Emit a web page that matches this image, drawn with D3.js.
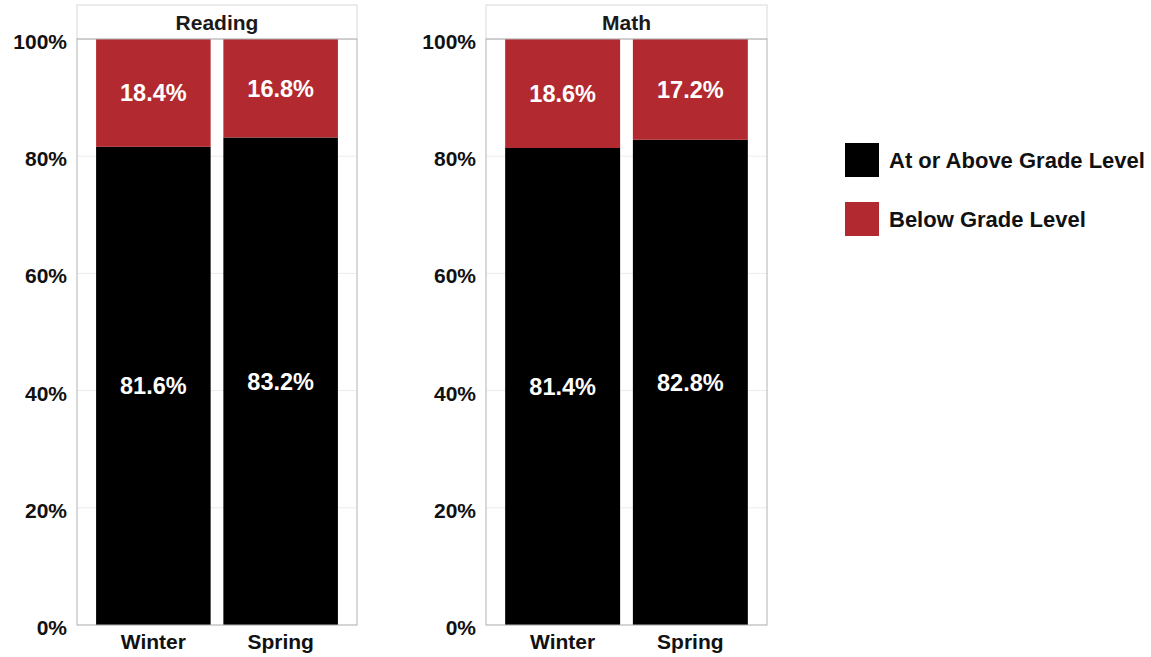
<!DOCTYPE html>
<html><head><meta charset="utf-8">
<script src="https://cdn.jsdelivr.net/npm/d3@7"></script>
<style>body{margin:0;background:#fff}svg text{font-family:"Liberation Sans",Arial,sans-serif;font-weight:bold}</style>
</head><body><svg id="c" width="1151" height="657"></svg>
<script>
const subjects = ["Reading", "Math"];
const seasons = ["Winter", "Spring"];
const atOrAbove = [[81.6, 83.2], [81.4, 82.8]];
const below = [[18.4, 16.8], [18.6, 17.2]];
const yTicks = [0, 20, 40, 60, 80, 100];
const legendLabels = ["At or Above Grade Level", "Below Grade Level"];
const colors = ["#000000", "#b22a2f"];

const svg = d3.select("#c");
const panels = [{x0: 77, x1: 357}, {x0: 486, x1: 767}];
const plotTop = 39, plotBottom = 625, stripTop = 5;
const y = d3.scaleLinear().domain([0, 100]).range([plotBottom, plotTop]);

subjects.forEach((subj, i) => {
  const p = panels[i];
  const g = svg.append("g");
  const x = d3.scaleBand().domain(seasons).range([p.x0, p.x1]).paddingInner(0.1).paddingOuter(0.15);
  // gridlines
  g.selectAll("line.grid").data(yTicks).join("line")
    .attr("x1", p.x0).attr("x2", p.x1).attr("y1", d => y(d)).attr("y2", d => y(d))
    .attr("stroke", "#ececec").attr("stroke-width", 1);
  // strip
  g.append("rect").attr("x", p.x0).attr("y", stripTop).attr("width", p.x1 - p.x0).attr("height", plotTop - stripTop)
    .attr("fill", "#fff").attr("stroke", "#d9d9d9").attr("stroke-width", 1);
  g.append("text").attr("x", (p.x0 + p.x1) / 2).attr("y", 30).attr("text-anchor", "middle")
    .attr("font-size", 21).attr("fill", "#1a1a1a").text(subj);
  // bars
  const rows = seasons.map((s, j) => ({s, a: atOrAbove[i][j], b: below[i][j]}));
  g.selectAll("rect.a").data(rows).join("rect")
    .attr("x", d => x(d.s)).attr("width", x.bandwidth())
    .attr("y", d => y(d.a)).attr("height", d => y(0) - y(d.a)).attr("fill", colors[0]);
  g.selectAll("rect.b").data(rows).join("rect")
    .attr("x", d => x(d.s)).attr("width", x.bandwidth())
    .attr("y", d => y(d.a + d.b)).attr("height", d => y(d.a) - y(d.a + d.b)).attr("fill", colors[1]);
  // labels
  g.selectAll("text.la").data(rows).join("text")
    .attr("x", d => x(d.s) + x.bandwidth() / 2).attr("y", d => y(d.a / 2) + 8.5)
    .attr("text-anchor", "middle").attr("font-size", 23.5).attr("fill", "#fff").text(d => d.a.toFixed(1) + "%");
  g.selectAll("text.lb").data(rows).join("text")
    .attr("x", d => x(d.s) + x.bandwidth() / 2).attr("y", d => y(d.a + d.b / 2) + 8.5)
    .attr("text-anchor", "middle").attr("font-size", 23.5).attr("fill", "#fff").text(d => d.b.toFixed(1) + "%");
  // panel border
  g.append("rect").attr("x", p.x0).attr("y", plotTop).attr("width", p.x1 - p.x0).attr("height", plotBottom - plotTop)
    .attr("fill", "none").attr("stroke", "#b3b3b3").attr("stroke-width", 1);
  // axes
  const ya = d3.axisLeft(y).tickValues(yTicks).tickFormat(d => d + "%").tickSize(0).tickPadding(10);
  const yg = g.append("g").attr("transform", `translate(${p.x0},0)`).call(ya);
  yg.select(".domain").remove();
  yg.selectAll("text").attr("font-size", 21).attr("fill", "#111").attr("font-family", "Liberation Sans, Arial, sans-serif").attr("font-weight", "bold").attr("dy", "0.45em");
  const xa = d3.axisBottom(x).tickSize(0).tickPadding(9);
  const xg = g.append("g").attr("transform", `translate(0,${plotBottom})`).call(xa);
  xg.select(".domain").remove();
  xg.selectAll("text").attr("font-size", 21).attr("fill", "#111").attr("font-family", "Liberation Sans, Arial, sans-serif").attr("font-weight", "bold").attr("dy", "0.71em");
});

// legend
const lg = svg.append("g");
legendLabels.forEach((lab, k) => {
  const yy = 143 + k * 59;
  lg.append("rect").attr("x", 845).attr("y", yy).attr("width", 34).attr("height", 34).attr("fill", colors[k]);
  lg.append("text").attr("x", 889).attr("y", yy + 17 + 8).attr("font-size", 22).attr("fill", "#111").text(lab);
});
</script></body></html>
